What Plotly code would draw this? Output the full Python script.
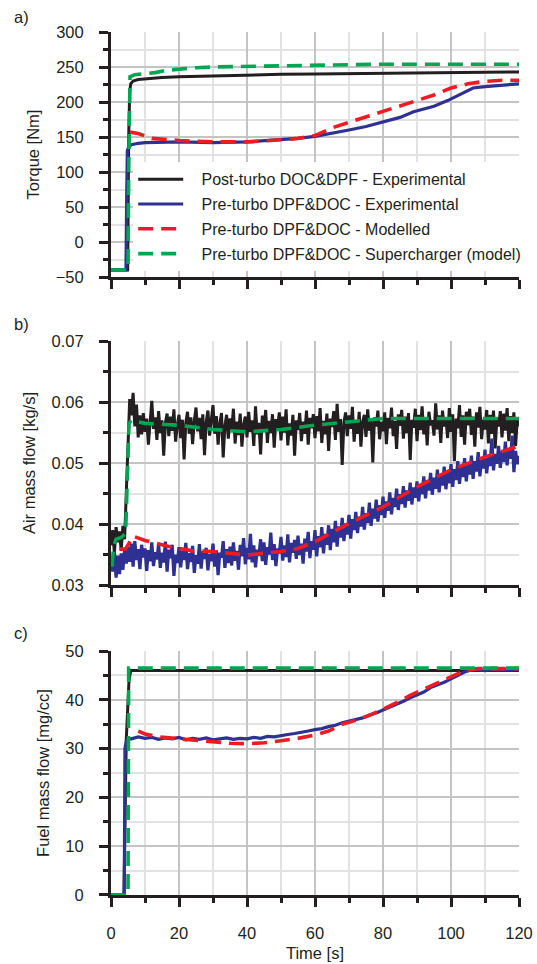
import plotly.graph_objects as go

# ---------------- DATA ----------------
series_names = [
    "Post-turbo DOC&DPF - Experimental",
    "Pre-turbo DPF&DOC - Experimental",
    "Pre-turbo DPF&DOC - Modelled",
    "Pre-turbo DPF&DOC - Supercharger (model)",
]

# Panel a) Torque [Nm]
torque_post_t = [0, 4.9, 5.2, 5.5, 5.8, 6.5, 8, 10, 15, 20, 30, 40, 50, 60, 70, 80, 90, 100, 110, 120]
torque_post = [-40, -40, 150, 215, 226, 230, 232, 233, 235, 236, 237.5, 238.5, 239.5, 240, 240.5, 241, 241.5, 242, 242.5, 243]

torque_pre_t = [0, 4.4, 4.6, 4.8, 5.2, 6, 8, 10, 20, 30, 40, 50, 55, 60, 65, 70, 75, 80, 85, 89, 95, 99, 103, 106.5, 110, 115, 120]
torque_pre = [-40, -40, 60, 130, 136, 139, 141, 142, 143, 142, 143, 146, 148, 151, 155, 160, 165, 171, 178, 186, 194, 202, 212, 220, 222, 224, 226]

torque_mod_t = [5.5, 8, 12, 20, 30, 40, 50, 55, 60, 65, 70, 75, 80, 85, 90, 95, 100, 105, 110, 115, 120]
torque_mod = [157, 155, 148, 145, 143, 143, 146, 148, 152, 163, 171, 179, 186, 195, 202, 210, 220, 226, 229.5, 231, 231]

torque_sc_t = [0, 5.0, 5.2, 5.4, 5.6, 7, 10, 13, 16, 20, 25, 30, 40, 50, 60, 80, 100, 120]
torque_sc = [-40, -40, 100, 225, 236, 239, 240, 242, 245, 247, 249, 250, 251, 252, 253, 254, 254, 254]

# Panel b) Air mass flow [kg/s], sampled every 0.5 s from 0 to 120 s
air_step = 0.5
air_post = [
    0.0365, 0.0390, 0.0352, 0.0395, 0.0370, 0.0388, 0.0356, 0.0397, 0.0375, 0.0455,
    0.0552, 0.0605, 0.0578, 0.0615, 0.0560, 0.0596, 0.0542, 0.0578, 0.0547, 0.0582,
    0.0551, 0.0573, 0.0530, 0.0568, 0.0602, 0.0556, 0.0575, 0.0538, 0.0585, 0.0549,
    0.0570, 0.0512, 0.0566, 0.0581, 0.0544, 0.0576, 0.0553, 0.0588, 0.0535, 0.0562,
    0.0579, 0.0541, 0.0571, 0.0506, 0.0566, 0.0584, 0.0548, 0.0575, 0.0531, 0.0569,
    0.0591, 0.0552, 0.0574, 0.0539, 0.0580, 0.0513, 0.0567, 0.0586, 0.0545, 0.0571,
    0.0595, 0.0548, 0.0577, 0.0530, 0.0565, 0.0582, 0.0509, 0.0561, 0.0579, 0.0540,
    0.0573, 0.0555, 0.0589, 0.0532, 0.0568, 0.0546, 0.0581, 0.0527, 0.0563, 0.0576,
    0.0542, 0.0584, 0.0551, 0.0570, 0.0528, 0.0593, 0.0547, 0.0566, 0.0514, 0.0578,
    0.0556, 0.0587, 0.0533, 0.0569, 0.0549, 0.0580, 0.0525, 0.0572, 0.0558, 0.0583,
    0.0537, 0.0576, 0.0550, 0.0588, 0.0529, 0.0565, 0.0545, 0.0579, 0.0512, 0.0570,
    0.0554, 0.0582, 0.0536, 0.0568, 0.0548, 0.0586, 0.0530, 0.0574, 0.0557, 0.0580,
    0.0541, 0.0577, 0.0552, 0.0590, 0.0533, 0.0569, 0.0547, 0.0581, 0.0520, 0.0573,
    0.0559, 0.0585, 0.0538, 0.0597, 0.0551, 0.0572, 0.0497, 0.0566, 0.0583, 0.0544,
    0.0578, 0.0556, 0.0592, 0.0535, 0.0570, 0.0548, 0.0584, 0.0527, 0.0567, 0.0579,
    0.0543, 0.0588, 0.0553, 0.0571, 0.0501, 0.0575, 0.0560, 0.0586, 0.0539, 0.0568,
    0.0552, 0.0583, 0.0531, 0.0574, 0.0557, 0.0591, 0.0544, 0.0569, 0.0523, 0.0580,
    0.0561, 0.0587, 0.0540, 0.0576, 0.0549, 0.0582, 0.0505, 0.0571, 0.0558, 0.0589,
    0.0536, 0.0579, 0.0554, 0.0593, 0.0547, 0.0575, 0.0529, 0.0584, 0.0562, 0.0570,
    0.0545, 0.0598, 0.0555, 0.0578, 0.0533, 0.0586, 0.0560, 0.0574, 0.0541, 0.0590,
    0.0551, 0.0580, 0.0503, 0.0573, 0.0557, 0.0595, 0.0543, 0.0578, 0.0530, 0.0584,
    0.0562, 0.0589, 0.0546, 0.0576, 0.0527, 0.0583, 0.0558, 0.0592, 0.0539, 0.0571,
    0.0555, 0.0587, 0.0532, 0.0579, 0.0548, 0.0586, 0.0524, 0.0574, 0.0560, 0.0585,
    0.0542, 0.0581, 0.0553, 0.0590, 0.0536, 0.0577, 0.0549, 0.0583, 0.0528, 0.0573,
    0.0560,
]
air_pre = [
    0.0340, 0.0322, 0.0355, 0.0312, 0.0348, 0.0318, 0.0352, 0.0325, 0.0358, 0.0335,
    0.0362, 0.0338, 0.0368, 0.0330, 0.0372, 0.0341, 0.0359, 0.0326, 0.0366, 0.0345,
    0.0360, 0.0323, 0.0357, 0.0339, 0.0370, 0.0331, 0.0354, 0.0342, 0.0367, 0.0328,
    0.0353, 0.0337, 0.0371, 0.0322, 0.0358, 0.0344, 0.0366, 0.0315, 0.0350, 0.0336,
    0.0362, 0.0329, 0.0356, 0.0341, 0.0369, 0.0326, 0.0352, 0.0338, 0.0364, 0.0320,
    0.0349, 0.0335, 0.0367, 0.0327, 0.0355, 0.0343, 0.0361, 0.0324, 0.0351, 0.0339,
    0.0368, 0.0330, 0.0357, 0.0316, 0.0353, 0.0345, 0.0372, 0.0328, 0.0359, 0.0336,
    0.0363, 0.0332, 0.0370, 0.0340, 0.0356, 0.0325, 0.0366, 0.0347, 0.0377, 0.0334,
    0.0361, 0.0342, 0.0384, 0.0337, 0.0365, 0.0329, 0.0358, 0.0348, 0.0375, 0.0339,
    0.0370, 0.0333, 0.0362, 0.0350, 0.0386, 0.0341, 0.0367, 0.0331, 0.0360, 0.0352,
    0.0379, 0.0340, 0.0365, 0.0346, 0.0383, 0.0337, 0.0369, 0.0353, 0.0374, 0.0343,
    0.0381, 0.0349, 0.0368, 0.0335, 0.0376, 0.0355, 0.0387, 0.0344, 0.0372, 0.0358,
    0.0390, 0.0347, 0.0380, 0.0362, 0.0395, 0.0352, 0.0384, 0.0366, 0.0398, 0.0357,
    0.0392, 0.0370, 0.0405, 0.0363, 0.0396, 0.0378, 0.0410, 0.0372, 0.0401, 0.0383,
    0.0415, 0.0376, 0.0408, 0.0390, 0.0420, 0.0385, 0.0412, 0.0396, 0.0428, 0.0391,
    0.0418, 0.0402, 0.0435, 0.0397, 0.0425, 0.0409, 0.0440, 0.0404, 0.0431, 0.0415,
    0.0445, 0.0410, 0.0437, 0.0422, 0.0452, 0.0416, 0.0443, 0.0428, 0.0458, 0.0423,
    0.0449, 0.0433, 0.0462, 0.0427, 0.0455, 0.0438, 0.0468, 0.0432, 0.0460, 0.0443,
    0.0470, 0.0437, 0.0465, 0.0449, 0.0478, 0.0442, 0.0471, 0.0455, 0.0484, 0.0448,
    0.0476, 0.0458, 0.0489, 0.0452, 0.0480, 0.0463, 0.0494, 0.0457, 0.0485, 0.0467,
    0.0498, 0.0461, 0.0490, 0.0472, 0.0503, 0.0466, 0.0494, 0.0477, 0.0508, 0.0470,
    0.0499, 0.0481, 0.0512, 0.0474, 0.0503, 0.0486, 0.0518, 0.0478, 0.0506, 0.0491,
    0.0522, 0.0483, 0.0510, 0.0495, 0.0540, 0.0488, 0.0515, 0.0499, 0.0528, 0.0492,
    0.0519, 0.0502, 0.0535, 0.0496, 0.0523, 0.0507, 0.0545, 0.0485, 0.0520, 0.0498,
    0.0512,
]
air_mod_t = [2.5, 4.3, 6.5, 10, 17, 24, 30, 40, 50, 55, 60, 65, 70, 80, 90, 100, 110, 120]
air_mod = [0.0359, 0.0359, 0.0380, 0.0373, 0.0363, 0.0356, 0.0355, 0.0349, 0.0355, 0.0360,
           0.0371, 0.0386, 0.0401, 0.0428, 0.0461, 0.0489, 0.0510, 0.0528]
air_sc_t = [0.3, 0.8, 1.5, 3, 4.3, 4.8, 5.3, 6, 10, 20, 30, 40, 50, 60, 70, 80, 120]
air_sc = [0.0330, 0.0365, 0.0375, 0.0378, 0.0385, 0.0500, 0.0565, 0.0570, 0.0565, 0.0562,
          0.0555, 0.0551, 0.0555, 0.0562, 0.0568, 0.0573, 0.0573]

# Panel c) Fuel mass flow [mg/cc]
fuel_post_t = [0, 3.8, 4.5, 5.3, 5.8, 120]
fuel_post = [0, 0, 32, 44, 46, 46]
fuel_pre_t = [0, 3.9, 4.1, 4.5, 5, 6, 8, 10, 12, 14, 16, 18, 20, 22, 24, 26, 28, 30, 32, 34, 36, 38,
              40, 42, 44, 46, 48, 50, 52, 54, 56, 58, 60, 62, 64, 66, 68, 70, 72, 74, 76, 78, 80,
              82, 84, 86, 88, 90, 92, 94, 96, 98, 100, 102, 104, 106, 108, 110, 112, 114, 116, 118, 120]
fuel_pre = [0, 0, 30, 31.5, 32, 32.0, 32.4, 32.1, 32.3, 31.9, 32.2, 32.0, 32.3, 31.8, 32.1, 31.9,
            32.2, 31.8, 32.0, 32.2, 31.9, 32.1, 32.0, 32.3, 32.1, 32.5, 32.4, 32.7, 32.9, 33.1,
            33.3, 33.6, 33.9, 34.1, 34.5, 34.8, 35.3, 35.6, 36.0, 36.3, 36.9, 37.3, 37.9, 38.5,
            39.0, 39.7, 40.4, 41.0, 41.6, 42.5, 43.0, 43.6, 44.3, 45.0, 45.7, 46.1, 46.2, 46.0,
            46.2, 46.1, 46.2, 46.1, 46.2]
fuel_mod_t = [8, 10, 14, 20, 25, 30, 35, 40, 45, 50, 55, 60, 64, 68, 72, 76, 80, 84, 88, 92, 96,
              100, 104, 108, 120]
fuel_mod = [33.6, 33.0, 32.4, 32.0, 31.6, 31.3, 31.1, 31.0, 31.2, 31.6, 32.1, 32.8, 33.6, 35.0,
            35.8, 36.8, 38.0, 39.4, 40.9, 42.2, 43.4, 44.8, 46.0, 46.4, 46.4]
fuel_sc_t = [0, 5.0, 5.2, 120]
fuel_sc = [0, 0, 46.5, 46.5]

# ---------------- FIGURE ----------------
FONT = "Liberation Sans, Arial, sans-serif"
BLACK = "#231f20"
BLUE = "#2e3192"
RED = "#ed1c24"
GREEN = "#00a651"
MAJOR_GRID = "#c4c4c4"
MINOR_GRID = "#e2e2e2"
FS = 16.5
LEGEND_PAD = "\u00a0\u00a0\u00a0"  # visual gap between legend sample and its text

air_t = [round(i * air_step, 1) for i in range(len(air_post))]

fig = go.Figure()

styles = [
    dict(color=BLACK, width=3),
    dict(color=BLUE, width=3.2),
    dict(color=RED, width=3.6, dash="15px,8px"),
    dict(color=GREEN, width=3.6, dash="15px,8px"),
]

panels = [
    ("x", "y", [(torque_post_t, torque_post), (torque_pre_t, torque_pre),
                (torque_mod_t, torque_mod), (torque_sc_t, torque_sc)]),
    ("x2", "y2", [(air_t, air_post), (air_t, air_pre), (air_mod_t, air_mod), (air_sc_t, air_sc)]),
    ("x3", "y3", [(fuel_post_t, fuel_post), (fuel_pre_t, fuel_pre),
                  (fuel_mod_t, fuel_mod), (fuel_sc_t, fuel_sc)]),
]

for pi, (xa, ya, data) in enumerate(panels):
    for si, (xs, ys) in enumerate(data):
        fig.add_trace(go.Scatter(
            x=xs, y=ys, mode="lines", name=LEGEND_PAD + series_names[si],
            line=styles[si], xaxis=xa, yaxis=ya,
            showlegend=(pi == 0), legendgroup=series_names[si],
        ))


def xaxis(anchor, labels):
    return dict(
        anchor=anchor, domain=[0, 1], range=[0, 120], tick0=0, dtick=20,
        showline=True, linecolor=BLACK, linewidth=3,
        ticks="outside", ticklen=9, tickwidth=3, tickcolor=BLACK,
        showgrid=True, gridcolor=MAJOR_GRID, gridwidth=1.5, zeroline=False,
        showticklabels=labels, ticklabelstandoff=12,
        tickfont=dict(family=FONT, size=FS, color=BLACK),
        minor=dict(dtick=10, tick0=0, ticks="outside", ticklen=5, tickwidth=3, tickcolor=BLACK,
                   showgrid=True, gridcolor=MINOR_GRID, gridwidth=1.5),
    )


def yaxis(anchor, domain, rng, dtick, mdtick, title, fmt=None):
    d = dict(
        anchor=anchor, domain=domain, range=rng, tick0=rng[0], dtick=dtick,
        showline=True, linecolor=BLACK, linewidth=3,
        ticks="outside", ticklen=9, tickwidth=3, tickcolor=BLACK,
        showgrid=True, gridcolor=MAJOR_GRID, gridwidth=1.5, zeroline=False,
        ticklabelstandoff=12,
        tickfont=dict(family=FONT, size=FS, color=BLACK),
        title=dict(text=title, font=dict(family=FONT, size=FS, color=BLACK), standoff=12),
        minor=dict(dtick=mdtick, tick0=rng[0], ticks="outside", ticklen=5, tickwidth=3,
                   tickcolor=BLACK, showgrid=True, gridcolor=MINOR_GRID, gridwidth=1.5),
    )
    if fmt:
        d["tickformat"] = fmt
    return d


fig.update_layout(
    width=537, height=964,
    margin=dict(l=111, r=18, t=32, b=69, autoexpand=False),
    paper_bgcolor="white", plot_bgcolor="white",
    font=dict(family=FONT, size=FS, color=BLACK),
    xaxis=xaxis("y", False),
    xaxis2=xaxis("y2", False),
    xaxis3=dict(xaxis("y3", True),
                title=dict(text="Time [s]", font=dict(family=FONT, size=FS, color=BLACK), standoff=7)),
    yaxis=yaxis("x", [0.7161, 1.0], [-50, 300], 50, 25, "Torque [Nm]"),
    yaxis2=yaxis("x2", [0.3592, 0.6419], [0.03, 0.07], 0.01, 0.005, "Air mass flow [kg/s]", ".2f"),
    yaxis3=yaxis("x3", [0.0, 0.2827], [0, 50], 10, 5, "Fuel mass flow [mg/cc]"),
    legend=dict(
        x=0.0544, y=0.849, xanchor="left", yanchor="top",
        bgcolor="white", borderwidth=0,
        font=dict(family=FONT, size=16, color=BLACK),
        itemwidth=45, tracegroupgap=1,
    ),
    showlegend=True,
)

for label, ypos in [("a)", 1.0174), ("b)", 0.6611), ("c)", 0.3036)]:
    fig.add_annotation(text=label, xref="paper", yref="paper", x=-0.2426, y=ypos,
                       xanchor="left", yanchor="middle", showarrow=False,
                       font=dict(family=FONT, size=FS, color=BLACK))

fig.write_html("out.html")
